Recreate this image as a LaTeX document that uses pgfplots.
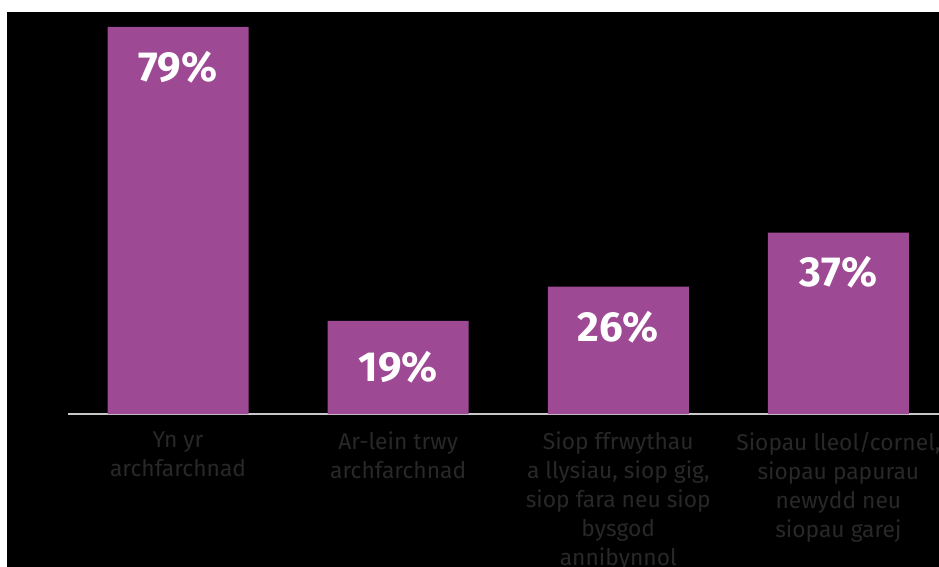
\documentclass[border=0pt]{standalone}
\usepackage{fontspec}
\setmainfont{Fira Sans}
\usepackage{pgfplots}
\usepackage{pgfplotstable}
\pgfplotsset{compat=1.18}
\definecolor{barc}{RGB}{158,73,147}
\definecolor{lab}{RGB}{40,40,40}
\definecolor{axl}{RGB}{200,200,200}
\pgfplotstableread{
x y off
0 79 -40
1 19 -46.5
2 26 -41
3 37 -40
}\datatable
\begin{document}
\begin{tikzpicture}[x=1pt,y=1pt]
\useasboundingbox (0,0) rectangle (939,-567);
\clip (0,0) rectangle (939,-567);
\fill[white] (0,0) rectangle (939,-567);
\fill[black] (7,-12) rectangle (939,-567);
\begin{axis}[
  at={(68pt,-414pt)}, anchor=south west,
  scale only axis, width=871pt, height=402pt,
  xmin=-0.5, xmax=3.457, ymin=0, ymax=82.04,
  hide y axis,
  axis x line*=bottom,
  x axis line style={draw=axl, line width=1.2pt},
  xtick={0,1,2,3},
  major tick length=0pt,
  xticklabels={{Yn yr\\archfarchnad},{Ar-lein trwy\\archfarchnad},{Siop ffrwythau\\a llysiau, siop gig,\\siop fara neu siop\\bysgod\\annibynnol},{Siopau lleol/cornel,\\siopau papurau\\newydd neu\\siopau garej}},
  xticklabel style={font=\fontsize{22.8}{29}\selectfont, text=lab, align=center, anchor=north, inner sep=0pt, yshift=-18pt},
  clip=false,
]
\addplot[ybar, bar width=141pt, fill=barc, draw=none,
  visualization depends on={\thisrow{off} \as \myoff},
  nodes near coords={\pgfmathprintnumber[assume math mode=true]{\pgfplotspointmeta}\%},
  nodes near coords style={anchor=center, yshift=\myoff pt, text=white, font=\fontsize{42}{42}\selectfont\bfseries},
] table[x=x, y=y] {\datatable};
\end{axis}
\end{tikzpicture}
\end{document}
